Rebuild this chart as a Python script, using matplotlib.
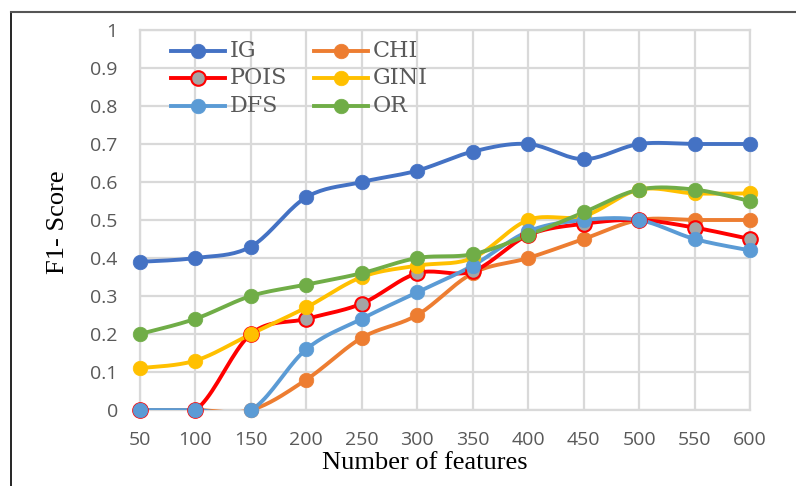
import numpy as np
import matplotlib
matplotlib.use("Agg")
import matplotlib.pyplot as plt
from matplotlib.lines import Line2D

features = [50, 100, 150, 200, 250, 300, 350, 400, 450, 500, 550, 600]
ig = [0.39, 0.40, 0.43, 0.56, 0.60, 0.63, 0.68, 0.70, 0.66, 0.70, 0.70, 0.70]
chi = [0.0, 0.0, 0.0, 0.08, 0.19, 0.25, 0.36, 0.40, 0.45, 0.50, 0.50, 0.50]
pois = [0.0, 0.0, 0.20, 0.24, 0.28, 0.36, 0.365, 0.46, 0.49, 0.50, 0.48, 0.45]
gini = [0.11, 0.13, 0.20, 0.27, 0.35, 0.38, 0.40, 0.50, 0.51, 0.58, 0.57, 0.57]
dfs = [0.0, 0.0, 0.0, 0.16, 0.24, 0.31, 0.38, 0.47, 0.50, 0.50, 0.45, 0.42]
orr = [0.20, 0.24, 0.30, 0.33, 0.36, 0.40, 0.41, 0.46, 0.52, 0.58, 0.58, 0.55]

names = ["IG", "CHI", "POIS", "GINI", "DFS", "OR"]
series = [ig, chi, pois, gini, dfs, orr]
colors = ["#4472C4", "#ED7D31", "#FF0000", "#FFC000", "#5B9BD5", "#70AD47"]
faces = ["#4472C4", "#ED7D31", "#A5A5A5", "#FFC000", "#5B9BD5", "#70AD47"]

W, H = 796, 486


def smooth(x, y, n=20):
    # catmull-rom curve through the points, like excel's smoothed line
    x = np.asarray(x, float)
    y = np.asarray(y, float)
    px = np.concatenate([[x[0]], x, [x[-1]]])
    py = np.concatenate([[y[0]], y, [y[-1]]])
    xs, ys = [], []
    t = np.linspace(0, 1, n, endpoint=False)
    for i in range(1, len(px) - 2):
        for p, out in ((px, xs), (py, ys)):
            p0, p1, p2, p3 = p[i - 1], p[i], p[i + 1], p[i + 2]
            out.extend(0.5 * ((2 * p1) + (-p0 + p2) * t
                              + (2 * p0 - 5 * p1 + 4 * p2 - p3) * t ** 2
                              + (-p0 + 3 * p1 - 3 * p2 + p3) * t ** 3))
    xs.append(x[-1])
    ys.append(y[-1])
    return np.array(xs), np.array(ys)


fig = plt.figure(figsize=(W / 100, H / 100), dpi=100)
ax = fig.add_axes([140 / W, 1 - 410 / H, 610 / W, 380 / H])

pos = np.arange(len(features))
for name, vals, c, fc in zip(names, series, colors, faces):
    sx, sy = smooth(pos, vals)
    ax.plot(sx, sy, color=c, lw=2.8, solid_capstyle="round", zorder=3)
    ax.plot(pos, vals, ls="none", marker="o", ms=10.5, mfc=fc, mec=c,
            mew=1.5 if name == "POIS" else 0.5, zorder=4, clip_on=False)

ax.set_xlim(0, len(features) - 1)
ax.set_ylim(0, 1)
ax.set_xticks(pos)
ax.set_xticklabels([str(f) for f in features])
ax.set_yticks(np.round(np.arange(0, 1.01, 0.1), 1))
ax.set_yticklabels(["0", "0.1", "0.2", "0.3", "0.4", "0.5", "0.6", "0.7", "0.8", "0.9", "1"])
ax.grid(True, color="#D9D9D9", lw=1.6)
ax.set_axisbelow(True)
for s in ax.spines.values():
    s.set_color("#D9D9D9")
    s.set_linewidth(1.6)
ax.tick_params(length=0, colors="#595959", labelsize=14)
ax.tick_params(axis="x", pad=15)
ax.tick_params(axis="y", pad=16)
for lab in ax.get_xticklabels() + ax.get_yticklabels():
    lab.set_fontfamily("Open Sans")

ax.set_xlabel("Number of features", fontfamily="Liberation Serif", fontsize=19, va="center")
ax.xaxis.set_label_coords((425 - 140) / 610, -(463 - 410) / 380)
ax.set_ylabel("F1- Score", fontfamily="Liberation Serif", fontsize=19, va="center")
ax.yaxis.set_label_coords((58 - 140) / 610, (410 - 222) / 380)

# legend, two columns
leg_x = [171, 314]
leg_y = [51, 78, 106]
for k, (name, c, fc) in enumerate(zip(names, colors, faces)):
    col, row = k % 2, k // 2
    x0, y0 = leg_x[col], leg_y[row]
    fy = 1 - y0 / H
    fig.add_artist(Line2D([x0 / W, (x0 + 54) / W], [fy, fy], color=c, lw=2.8))
    fig.add_artist(Line2D([(x0 + 27) / W], [fy], ls="none", marker="o", ms=10.5,
                          mfc=fc, mec=c, mew=1.5 if name == "POIS" else 0.5))
    fig.text((x0 + 59) / W, fy, name, va="center", ha="left", color="#595959",
             fontfamily="DejaVu Serif", fontsize=16)

# outer border (left and top only)
fig.add_artist(Line2D([11 / W, 11 / W], [0, 1 - 12 / H], color="black", lw=1.2))
fig.add_artist(Line2D([11 / W, 1], [1 - 12 / H, 1 - 12 / H], color="#555555", lw=1.5))

fig.savefig("out.png", dpi=100)
